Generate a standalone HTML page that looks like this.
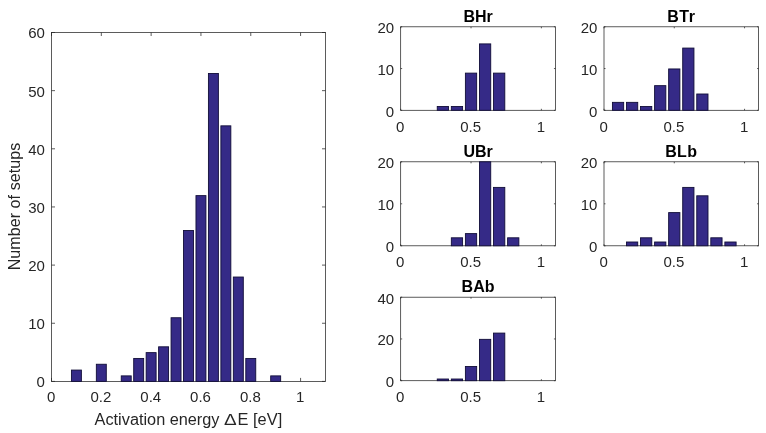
<!DOCTYPE html>
<html><head><meta charset="utf-8"><title>Activation energy histograms</title>
<style>
html,body{margin:0;padding:0;background:#fff;}
body{width:766px;height:433px;overflow:hidden;}
svg{display:block;font-family:"Liberation Sans", Arial, Helvetica, sans-serif;}
.ax{fill:none;stroke:#262626;stroke-width:0.75;}
.bars rect{fill:#352a87;stroke:#110d38;stroke-width:0.9;}
.tick text{fill:#262626;}
.title{font-size:16px;font-weight:bold;fill:#000;}
.lab{font-size:16px;fill:#262626;}
</style></head><body>
<svg width="766" height="433" viewBox="0 0 766 433">
<rect width="766" height="433" fill="#fff"/>
<g>
<path class="ax" d="M51.5 381.4v-3.5 M51.5 32.5v3.5 M101.32 381.4v-3.5 M101.32 32.5v3.5 M151.14 381.4v-3.5 M151.14 32.5v3.5 M200.95 381.4v-3.5 M200.95 32.5v3.5 M250.77 381.4v-3.5 M250.77 32.5v3.5 M300.59 381.4v-3.5 M300.59 32.5v3.5 M51.5 381.4h3.5 M325.5 381.4h-3.5 M51.5 323.25h3.5 M325.5 323.25h-3.5 M51.5 265.1h3.5 M325.5 265.1h-3.5 M51.5 206.95h3.5 M325.5 206.95h-3.5 M51.5 148.8h3.5 M325.5 148.8h-3.5 M51.5 90.65h3.5 M325.5 90.65h-3.5 M51.5 32.5h3.5 M325.5 32.5h-3.5"/>
<rect class="ax" x="51.5" y="32.5" width="274" height="348.9"/>
<g class="bars">
<rect x="71.43" y="370.07" width="9.96" height="11.33"/>
<rect x="96.34" y="364.25" width="9.96" height="17.14"/>
<rect x="121.25" y="375.88" width="9.96" height="5.51"/>
<rect x="133.7" y="358.44" width="9.96" height="22.96"/>
<rect x="146.15" y="352.62" width="9.96" height="28.77"/>
<rect x="158.61" y="346.81" width="9.96" height="34.59"/>
<rect x="171.06" y="317.74" width="9.96" height="63.66"/>
<rect x="183.52" y="230.51" width="9.96" height="150.89"/>
<rect x="195.97" y="195.62" width="9.96" height="185.78"/>
<rect x="208.43" y="73.5" width="9.96" height="307.89"/>
<rect x="220.88" y="125.84" width="9.96" height="255.56"/>
<rect x="233.34" y="277.03" width="9.96" height="104.37"/>
<rect x="245.79" y="358.44" width="9.96" height="22.96"/>
<rect x="270.7" y="375.88" width="9.96" height="5.51"/>
</g>
<g class="tick" font-size="15">
<text x="51.1" y="402.4" text-anchor="middle">0</text>
<text x="100.92" y="402.4" text-anchor="middle">0.2</text>
<text x="150.74" y="402.4" text-anchor="middle">0.4</text>
<text x="200.55" y="402.4" text-anchor="middle">0.6</text>
<text x="250.37" y="402.4" text-anchor="middle">0.8</text>
<text x="300.19" y="402.4" text-anchor="middle">1</text>
<text x="44.9" y="387.3" text-anchor="end">0</text>
<text x="44.9" y="329.15" text-anchor="end">10</text>
<text x="44.9" y="271" text-anchor="end">20</text>
<text x="44.9" y="212.85" text-anchor="end">30</text>
<text x="44.9" y="154.7" text-anchor="end">40</text>
<text x="44.9" y="96.55" text-anchor="end">50</text>
<text x="44.9" y="38.4" text-anchor="end">60</text>
</g>
</g>
<g>
<path class="ax" d="M400.67 110.3v-1.5 M400.67 26.8v1.5 M471.02 110.3v-1.5 M471.02 26.8v1.5 M541.38 110.3v-1.5 M541.38 26.8v1.5 M400.67 110.3h1.5 M555.45 110.3h-1.5 M400.67 68.55h1.5 M555.45 68.55h-1.5 M400.67 26.8h1.5 M555.45 26.8h-1.5"/>
<rect class="ax" x="400.67" y="26.8" width="154.78" height="83.5"/>
<g class="bars">
<rect x="437.25" y="106.53" width="11.26" height="3.77"/>
<rect x="451.33" y="106.53" width="11.26" height="3.77"/>
<rect x="465.4" y="73.12" width="11.26" height="37.17"/>
<rect x="479.47" y="43.9" width="11.26" height="66.4"/>
<rect x="493.54" y="73.12" width="11.26" height="37.17"/>
</g>
<g class="tick" font-size="15">
<text x="400.27" y="131.9" text-anchor="middle">0</text>
<text x="470.62" y="131.9" text-anchor="middle">0.5</text>
<text x="540.98" y="131.9" text-anchor="middle">1</text>
<text x="394.07" y="116.7" text-anchor="end">0</text>
<text x="394.07" y="74.95" text-anchor="end">10</text>
<text x="394.07" y="33.2" text-anchor="end">20</text>
</g>
<text class="title" x="478.06" y="22" text-anchor="middle">BHr</text>
</g>
<g>
<path class="ax" d="M604 110.3v-1.5 M604 26.8v1.5 M674.27 110.3v-1.5 M674.27 26.8v1.5 M744.55 110.3v-1.5 M744.55 26.8v1.5 M604 110.3h1.5 M758.6 110.3h-1.5 M604 68.55h1.5 M758.6 68.55h-1.5 M604 26.8h1.5 M758.6 26.8h-1.5"/>
<rect class="ax" x="604" y="26.8" width="154.6" height="83.5"/>
<g class="bars">
<rect x="612.43" y="102.35" width="11.24" height="7.95"/>
<rect x="626.49" y="102.35" width="11.24" height="7.95"/>
<rect x="640.54" y="106.53" width="11.24" height="3.77"/>
<rect x="654.6" y="85.65" width="11.24" height="24.65"/>
<rect x="668.65" y="68.95" width="11.24" height="41.35"/>
<rect x="682.71" y="48.07" width="11.24" height="62.23"/>
<rect x="696.76" y="94" width="11.24" height="16.3"/>
</g>
<g class="tick" font-size="15">
<text x="603.6" y="131.9" text-anchor="middle">0</text>
<text x="673.87" y="131.9" text-anchor="middle">0.5</text>
<text x="744.15" y="131.9" text-anchor="middle">1</text>
<text x="597.4" y="116.7" text-anchor="end">0</text>
<text x="597.4" y="74.95" text-anchor="end">10</text>
<text x="597.4" y="33.2" text-anchor="end">20</text>
</g>
<text class="title" x="681.4" y="22" text-anchor="middle" letter-spacing="0.5">BTr</text>
</g>
<g>
<path class="ax" d="M400.67 245.8v-1.5 M400.67 161.8v1.5 M471.02 245.8v-1.5 M471.02 161.8v1.5 M541.38 245.8v-1.5 M541.38 161.8v1.5 M400.67 245.8h1.5 M555.45 245.8h-1.5 M400.67 203.8h1.5 M555.45 203.8h-1.5 M400.67 161.8h1.5 M555.45 161.8h-1.5"/>
<rect class="ax" x="400.67" y="161.8" width="154.78" height="84"/>
<g class="bars">
<rect x="451.33" y="237.8" width="11.26" height="8"/>
<rect x="465.4" y="233.6" width="11.26" height="12.2"/>
<rect x="479.47" y="161.8" width="11.26" height="84"/>
<rect x="493.54" y="187.4" width="11.26" height="58.4"/>
<rect x="507.61" y="237.8" width="11.26" height="8"/>
</g>
<g class="tick" font-size="15">
<text x="400.27" y="267.4" text-anchor="middle">0</text>
<text x="470.62" y="267.4" text-anchor="middle">0.5</text>
<text x="540.98" y="267.4" text-anchor="middle">1</text>
<text x="394.07" y="252.2" text-anchor="end">0</text>
<text x="394.07" y="210.2" text-anchor="end">10</text>
<text x="394.07" y="168.2" text-anchor="end">20</text>
</g>
<text class="title" x="478.06" y="157" text-anchor="middle">UBr</text>
</g>
<g>
<path class="ax" d="M604 245.8v-1.5 M604 161.8v1.5 M674.27 245.8v-1.5 M674.27 161.8v1.5 M744.55 245.8v-1.5 M744.55 161.8v1.5 M604 245.8h1.5 M758.6 245.8h-1.5 M604 203.8h1.5 M758.6 203.8h-1.5 M604 161.8h1.5 M758.6 161.8h-1.5"/>
<rect class="ax" x="604" y="161.8" width="154.6" height="84"/>
<g class="bars">
<rect x="626.49" y="242" width="11.24" height="3.8"/>
<rect x="640.54" y="237.8" width="11.24" height="8"/>
<rect x="654.6" y="242" width="11.24" height="3.8"/>
<rect x="668.65" y="212.6" width="11.24" height="33.2"/>
<rect x="682.71" y="187.4" width="11.24" height="58.4"/>
<rect x="696.76" y="195.8" width="11.24" height="50"/>
<rect x="710.81" y="237.8" width="11.24" height="8"/>
<rect x="724.87" y="242" width="11.24" height="3.8"/>
</g>
<g class="tick" font-size="15">
<text x="603.6" y="267.4" text-anchor="middle">0</text>
<text x="673.87" y="267.4" text-anchor="middle">0.5</text>
<text x="744.15" y="267.4" text-anchor="middle">1</text>
<text x="597.4" y="252.2" text-anchor="end">0</text>
<text x="597.4" y="210.2" text-anchor="end">10</text>
<text x="597.4" y="168.2" text-anchor="end">20</text>
</g>
<text class="title" x="681.3" y="157" text-anchor="middle" letter-spacing="0.4">BLb</text>
</g>
<g>
<path class="ax" d="M400.67 380.7v-1.5 M400.67 297.2v1.5 M471.02 380.7v-1.5 M471.02 297.2v1.5 M541.38 380.7v-1.5 M541.38 297.2v1.5 M400.67 380.7h1.5 M555.45 380.7h-1.5 M400.67 338.95h1.5 M555.45 338.95h-1.5 M400.67 297.2h1.5 M555.45 297.2h-1.5"/>
<rect class="ax" x="400.67" y="297.2" width="154.78" height="83.5"/>
<g class="bars">
<rect x="437.25" y="379.01" width="11.26" height="1.69"/>
<rect x="451.33" y="379.01" width="11.26" height="1.69"/>
<rect x="465.4" y="366.49" width="11.26" height="14.21"/>
<rect x="479.47" y="339.35" width="11.26" height="41.35"/>
<rect x="493.54" y="333.09" width="11.26" height="47.61"/>
</g>
<g class="tick" font-size="15">
<text x="400.27" y="402.3" text-anchor="middle">0</text>
<text x="470.62" y="402.3" text-anchor="middle">0.5</text>
<text x="540.98" y="402.3" text-anchor="middle">1</text>
<text x="394.07" y="387.1" text-anchor="end">0</text>
<text x="394.07" y="345.35" text-anchor="end">20</text>
<text x="394.07" y="303.6" text-anchor="end">40</text>
</g>
<text class="title" x="478.06" y="292.4" text-anchor="middle">BAb</text>
</g>
<text y="424.7" font-size="16" fill="#262626"><tspan x="94.6" textLength="124.9" lengthAdjust="spacingAndGlyphs">Activation energy</tspan></text>
<text transform="translate(224.6,424.7) scale(1.19,1)" font-size="16" fill="#262626">∆</text>
<text y="424.7" font-size="16" fill="#262626"><tspan x="237.6" textLength="44.6" lengthAdjust="spacingAndGlyphs">E [eV]</tspan></text>
<text transform="translate(20.2,206.5) rotate(-90)" font-size="16" text-anchor="middle" letter-spacing="0.09" fill="#262626">Number of setups</text>
</svg>
</body></html>
